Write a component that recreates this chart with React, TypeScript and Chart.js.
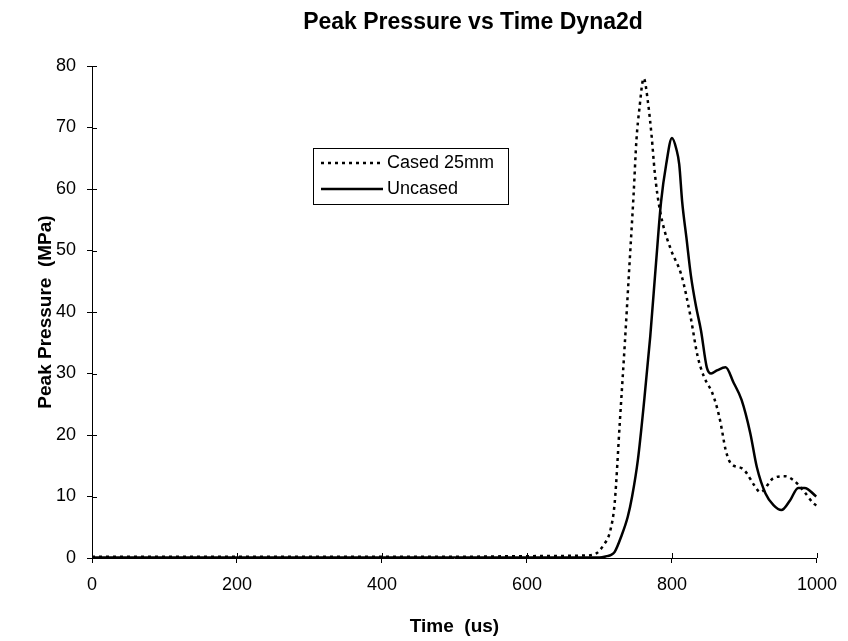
import React, { useEffect, useRef } from "react";
import { Chart, registerables } from "chart.js";

Chart.register(...registerables);

const chartTitle = "Peak Pressure vs Time Dyna2d";
const xAxisTitle = "Time  (us)";
const yAxisTitle = "Peak Pressure  (MPa)";
const seriesLabels = ["Cased 25mm", "Uncased"];
const xTickValues = [0, 200, 400, 600, 800, 1000];
const yTickValues = [0, 10, 20, 30, 40, 50, 60, 70, 80];

// Cased 25mm (dashed)
const casedTime = [0, 100, 200, 300, 400, 500, 600, 680, 695, 705, 715, 721, 728, 735, 741, 747, 751, 755, 761, 767, 772, 776, 780, 787, 799, 813, 826, 835, 844, 855, 862, 867, 874, 881, 896, 903, 913, 922, 940, 956, 967, 981, 995, 1000];
const casedPressure = [0.2, 0.2, 0.2, 0.2, 0.2, 0.2, 0.3, 0.4, 0.7, 2, 4.5, 9, 22, 35, 47, 59, 68, 73, 78, 74, 68.5, 63, 59, 54.5, 50, 46, 39, 33, 29.5, 27, 24.5, 22, 17.6, 15.4, 14.6, 13.8, 11.9, 10.7, 13, 13.3, 12.7, 11, 8.9, 8.5];

// Uncased (solid)
const uncasedTime = [0, 100, 200, 300, 400, 500, 600, 700, 710, 716, 721, 730, 739, 745, 753, 762, 770, 778, 785, 792, 800, 806, 810, 814, 820, 826, 833, 840, 848, 854, 862, 874, 885, 896, 908, 917, 929, 940, 951, 963, 974, 983, 999];
const uncasedPressure = [0.1, 0.1, 0.1, 0.1, 0.1, 0.1, 0.1, 0.1, 0.3, 0.5, 1, 3.5, 6.7, 10, 16, 26, 36, 48, 58, 64, 68.3, 66.5, 64, 58, 52, 46, 41, 37, 31, 30, 30.5, 31, 28.5, 25.7, 20.3, 14.8, 10.5, 8.6, 7.8, 9.4, 11.4, 11.4, 10];

const FONT = "'Liberation Sans', Arial, sans-serif";

const crossTicks = {
  id: "crossTicks",
  afterDraw(chart: any) {
    const { ctx, chartArea, scales } = chart;
    ctx.save();
    ctx.strokeStyle = "#000";
    ctx.lineWidth = 1;
    ctx.beginPath();
    for (const v of xTickValues) {
      const x = Math.round(scales.x.getPixelForValue(v)) + 0.5;
      ctx.moveTo(x, chartArea.bottom - 5);
      ctx.lineTo(x, chartArea.bottom);
    }
    for (const v of yTickValues) {
      const y = Math.round(scales.y.getPixelForValue(v)) + 0.5;
      ctx.moveTo(chartArea.left, y);
      ctx.lineTo(chartArea.left + 5, y);
    }
    ctx.stroke();
    ctx.restore();
  },
};

const fixedTitle = {
  id: "fixedTitle",
  afterDraw(chart: any, _args: any, opts: any) {
    const { ctx } = chart;
    ctx.save();
    ctx.fillStyle = "#000";
    ctx.font = opts.font;
    ctx.textAlign = "center";
    ctx.textBaseline = "middle";
    ctx.fillText(opts.text, opts.x, opts.y);
    ctx.restore();
  },
};

const boxLegend = {
  id: "boxLegend",
  afterDraw(chart: any, _args: any, opts: any) {
    const { ctx } = chart;
    const { left, top, width, height, rowGap, sampleLen, textGap, font } = opts;
    ctx.save();
    ctx.fillStyle = "#fff";
    ctx.fillRect(left, top, width, height);
    ctx.strokeStyle = "#000";
    ctx.lineWidth = 1;
    ctx.setLineDash([]);
    ctx.strokeRect(left + 0.5, top + 0.5, width, height);
    ctx.font = font;
    ctx.textBaseline = "middle";
    ctx.fillStyle = "#000";
    chart.data.datasets.forEach((ds: any, i: number) => {
      const y = top + height / 2 + (i - (chart.data.datasets.length - 1) / 2) * rowGap;
      ctx.beginPath();
      ctx.lineWidth = ds.borderWidth;
      ctx.setLineDash(ds.borderDash || []);
      ctx.moveTo(left + 8, y);
      ctx.lineTo(left + 8 + sampleLen, y);
      ctx.stroke();
      ctx.setLineDash([]);
      ctx.fillText(ds.label, left + 8 + sampleLen + textGap, y);
    });
    ctx.restore();
  },
};

export default function App() {
  const ref = useRef<HTMLCanvasElement | null>(null);
  useEffect(() => {
    document.body.style.margin = "0";
    const canvas = ref.current;
    if (!canvas) return;
    const chart = new Chart(canvas, {
      type: "line",
      data: {
        datasets: [
          {
            label: seriesLabels[0],
            data: casedTime.map((t, i) => ({ x: t, y: casedPressure[i] })),
            borderColor: "#000",
            borderWidth: 2.5,
            borderDash: [3, 4],
            pointRadius: 0,
            cubicInterpolationMode: "monotone",
            fill: false,
          },
          {
            label: seriesLabels[1],
            data: uncasedTime.map((t, i) => ({ x: t, y: uncasedPressure[i] })),
            borderColor: "#000",
            borderWidth: 2.5,
            pointRadius: 0,
            cubicInterpolationMode: "monotone",
            fill: false,
          },
        ],
      },
      options: {
        animation: false,
        responsive: false,
        maintainAspectRatio: false,
        layout: { padding: { left: 0, right: 24, top: 66, bottom: 0 } },
        plugins: {
          legend: { display: false },
          tooltip: { enabled: false },
          title: { display: false },
          fixedTitle: {
            text: chartTitle,
            x: 473,
            y: 23,
            font: `bold 23px ${FONT}`,
          },
          boxLegend: {
            left: 313,
            top: 148,
            width: 195,
            height: 56,
            rowGap: 26,
            sampleLen: 62,
            textGap: 4,
            font: `18px ${FONT}`,
          },
        } as any,
        scales: {
          x: {
            type: "linear",
            min: 0,
            max: 1000,
            afterBuildTicks: (s: any) => {
              s.ticks = xTickValues.map((v) => ({ value: v }));
            },
            afterFit: (s: any) => {
              s.height = 83;
            },
            grid: { drawOnChartArea: false, drawTicks: true, tickLength: 5, color: "#000" },
            border: { display: true, color: "#000", width: 1 },
            ticks: {
              color: "#000",
              font: { family: FONT, size: 18 },
              padding: 11,
              maxRotation: 0,
              callback: (v: any) => String(v),
            },
            title: {
              display: true,
              text: xAxisTitle,
              color: "#000",
              font: { family: FONT, size: 19, weight: "bold" },
              padding: { top: 0, bottom: 3 },
            },
          },
          y: {
            type: "linear",
            min: 0,
            max: 80,
            afterBuildTicks: (s: any) => {
              s.ticks = yTickValues.map((v) => ({ value: v }));
            },
            afterFit: (s: any) => {
              s.width = 92;
            },
            grid: { drawOnChartArea: false, drawTicks: true, tickLength: 5, color: "#000" },
            border: { display: true, color: "#000", width: 1 },
            ticks: {
              color: "#000",
              font: { family: FONT, size: 18 },
              padding: 11,
              callback: (v: any) => String(v),
            },
            title: {
              display: true,
              text: yAxisTitle,
              color: "#000",
              font: { family: FONT, size: 19, weight: "bold" },
              padding: { top: 34, bottom: 0 },
            },
          },
        },
      },
      plugins: [crossTicks, fixedTitle, boxLegend],
    });
    return () => chart.destroy();
  }, []);
  return (
    <div style={{ width: 848, height: 641, background: "#fff" }}>
      <canvas ref={ref} width={848} height={641} style={{ display: "block" }} />
    </div>
  );
}
